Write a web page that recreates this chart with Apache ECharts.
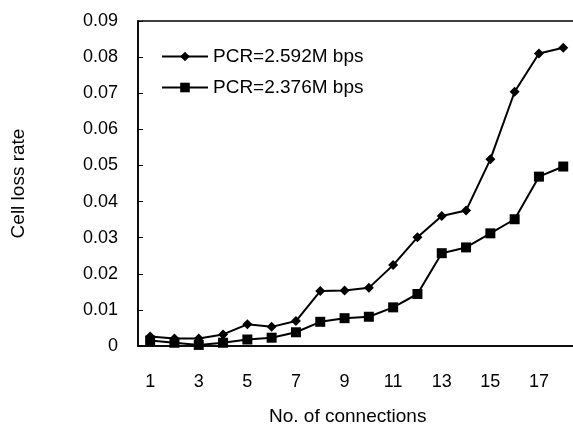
<!DOCTYPE html>
<html>
<head>
<meta charset="utf-8">
<script src="https://cdn.jsdelivr.net/npm/echarts@6/dist/echarts.min.js"></script>
<style>html,body{margin:0;padding:0;background:#fff}#c{width:573px;height:425px}</style>
</head>
<body>
<div id="c"></div>
<script>
var categories = ['1','2','3','4','5','6','7','8','9','10','11','12','13','14','15','16','17','18'];
var pcr2592 = [0.0026,0.0021,0.0021,0.0032,0.0060,0.0053,0.0069,0.0152,0.0154,0.0161,0.0224,0.0301,0.0360,0.0375,0.0517,0.0704,0.0810,0.0826];
var pcr2376 = [0.0015,0.0009,0.0003,0.0009,0.0018,0.0023,0.0038,0.0067,0.0077,0.0081,0.0107,0.0144,0.0257,0.0273,0.0312,0.0351,0.0469,0.0497];
var seriesNames = ['PCR=2.592M bps','PCR=2.376M bps'];

var chart = echarts.init(document.getElementById('c'), null, {renderer:'canvas'});
var font = 'Liberation Sans, Arial, sans-serif';
chart.setOption({
  animation: false,
  backgroundColor: '#fff',
  grid: {left: 138, top: 21, bottom: 79, right: -2.4, outerBoundsMode: 'none', containLabel: false,
         show: true, borderColor: '#000', borderWidth: 1.5},
  legend: {
    left: 156, top: 42, orient: 'vertical', itemWidth: 46, itemHeight: 12, itemGap: 12,
    textStyle: {fontFamily: font, fontSize: 19, color: '#000'},
    data: seriesNames
  },
  xAxis: {
    type: 'category', data: categories, boundaryGap: true,
    axisLine: {lineStyle: {color: '#000', width: 1.5}},
    axisTick: {show: false},
    axisLabel: {interval: 1, margin: 27, fontFamily: font, fontSize: 18, color: '#000'},
    name: 'No. of connections', nameLocation: 'middle', nameGap: 61,
    nameTextStyle: {fontFamily: font, fontSize: 19, color: '#000', padding: [0, 18, 0, 0]}
  },
  yAxis: {
    type: 'value', min: 0, max: 0.09, interval: 0.01,
    splitLine: {show: false},
    axisLine: {show: true, lineStyle: {color: '#000', width: 1.5}},
    axisTick: {show: true, inside: true, length: 5, lineStyle: {color: '#000'}},
    axisLabel: {margin: 20, fontFamily: font, fontSize: 18, color: '#000',
      formatter: function(v){ return v === 0 ? '0' : v.toFixed(2); }},
    name: 'Cell loss rate', nameLocation: 'middle', nameGap: 110, nameRotate: 90,
    nameTextStyle: {fontFamily: font, fontSize: 19, color: '#000'}
  },
  series: [
    {name: seriesNames[0], type: 'line', data: pcr2592, symbol: 'diamond', symbolSize: 10,
     lineStyle: {color: '#000', width: 2}, itemStyle: {color: '#000'}},
    {name: seriesNames[1], type: 'line', data: pcr2376, symbol: 'rect', symbolSize: 10,
     lineStyle: {color: '#000', width: 2}, itemStyle: {color: '#000'}}
  ]
});
</script>
</body>
</html>
